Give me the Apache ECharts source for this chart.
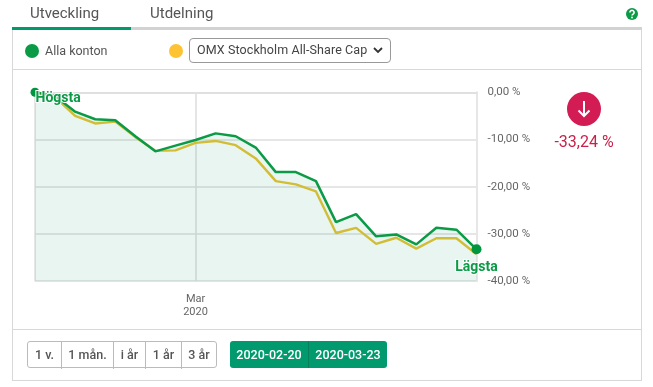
<!DOCTYPE html>
<html><head><meta charset="utf-8">
<script src="https://cdn.jsdelivr.net/npm/echarts@6/dist/echarts.min.js"></script>
<style>
html,body{margin:0;padding:0;background:#fff;width:653px;height:387px;overflow:hidden;font-family:Roboto,sans-serif;}
#chart{position:absolute;left:0;top:0;width:653px;height:387px;}
.a{position:absolute;white-space:nowrap;box-sizing:border-box;}
.btn{position:absolute;top:0;height:27px;line-height:26px;text-align:center;font-size:12.5px;font-weight:500;box-sizing:border-box;}
</style></head><body>
<div class="a" style="left:12px;top:27px;width:630px;height:354px;border:1px solid #d8d8d8;border-top:none"></div>
<div class="a" style="left:12px;top:27px;width:630px;height:3px;background:#d2d2d2"></div>
<div class="a" style="left:12px;top:27px;width:119px;height:3px;background:#009a6e"></div>
<div class="a" style="left:12px;top:69px;width:630px;height:1px;background:#d8d8d8"></div>
<div class="a" style="left:12px;top:329px;width:630px;height:1px;background:#d8d8d8"></div>
<div id="chart"></div>
<div class="a" style="left:30px;top:4px;font-size:15px;line-height:18px;color:#555">Utveckling</div>
<div class="a" style="left:150px;top:4px;font-size:15px;line-height:18px;color:#555">Utdelning</div>
<svg class="a" style="left:625px;top:7px" width="14" height="14" viewBox="0 0 14 14"><circle cx="7" cy="7" r="6" fill="#0b9a46"/><path d="M4.9 5.4a2.1 2 0 1 1 3.2 1.7c-.7.4-1.1.7-1.1 1.4" fill="none" stroke="#fff" stroke-width="1.6"/><circle cx="7" cy="10.4" r="1" fill="#fff"/></svg>
<div class="a" style="left:25px;top:44px;width:14px;height:14px;border-radius:50%;background:#0b9a46"></div>
<div class="a" style="left:45px;top:43px;font-size:12.5px;line-height:16px;color:#555">Alla konton</div>
<div class="a" style="left:169px;top:44px;width:14px;height:14px;border-radius:50%;background:#fdc332"></div>
<div class="a" style="left:189px;top:38px;width:202px;height:25px;border:1px solid #999;border-radius:4px;background:#fff"></div>
<div class="a" style="left:197px;top:42px;font-size:12.5px;line-height:16px;color:#444;letter-spacing:.1px">OMX Stockholm All-Share Cap</div>
<svg class="a" style="left:372px;top:46px" width="12" height="9" viewBox="0 0 12 9"><path d="M2 2l4 4 4-4" fill="none" stroke="#333" stroke-width="1.8"/></svg>
<svg class="a" style="left:567px;top:92px" width="34" height="34" viewBox="0 0 34 34"><circle cx="17" cy="17" r="17" fill="#d31b54"/><path d="M17 9v15M11.5 18.5l5.5 5.5 5.5-5.5" fill="none" stroke="#fff" stroke-width="2"/></svg>
<div class="a" style="left:534px;width:100px;top:133px;text-align:center;font-size:16px;line-height:18px;color:#c8224a">-33,24 %</div>
<div class="a" style="left:27px;top:341px;width:190px;height:27px;border:1px solid #bbb;border-radius:3px;color:#555">
<div class="btn" style="left:0;width:34px;border-right:1px solid #bbb">1 v.</div>
<div class="btn" style="left:34px;width:52px;border-right:1px solid #bbb">1 mån.</div>
<div class="btn" style="left:86px;width:32px;border-right:1px solid #bbb">i år</div>
<div class="btn" style="left:118px;width:36px;border-right:1px solid #bbb">1 år</div>
<div class="btn" style="left:154px;width:34px">3 år</div>
</div>
<div class="a" style="left:230px;top:341px;width:157px;height:27px;background:#009a6e;border-radius:3px;color:#fff">
<div class="btn" style="left:0;width:79px;border-right:1px solid #07805c;line-height:27px;font-size:12.5px">2020-02-20</div>
<div class="btn" style="left:79px;width:78px;line-height:27px;font-size:12.5px">2020-03-23</div>
</div>
<script>
const categories=['02-20','02-21','02-24','02-25','02-26','02-27','02-28','02-29','03-02','03-03','03-04','03-05','03-06','03-09','03-10','03-11','03-12','03-13','03-16','03-17','03-18','03-19','03-23'];
const accountValues=[0,-0.8,-4.1,-5.7,-5.9,-9.3,-12.5,-11.3,-10.1,-8.7,-9.3,-11.7,-16.9,-16.9,-18.8,-27.5,-25.8,-30.5,-30.1,-32.2,-28.7,-29.1,-33.24];
const indexValues=[0,-1,-5.0,-6.6,-6.2,-9.5,-12.4,-12.3,-10.7,-10.3,-11.2,-14,-18.8,-19.5,-21,-29.8,-28.7,-32.1,-30.8,-33.1,-30.9,-30.9,-34.3];
const highLabel='Högsta', lowLabel='Lägsta';
const monthCategory='03-02', monthLabel='Mar\n2020';
const font='Roboto';
const peak={fontFamily:font,fontWeight:'bold',fontSize:14,color:'#0b9a46',textBorderColor:'#fff',textBorderWidth:2};
const accountData=accountValues.map((v,i)=>{
  if(i===0) return {value:v,symbol:'circle',symbolSize:9,label:{show:true,formatter:highLabel,position:'right',distance:0,offset:[-4,6],...peak}};
  if(i===accountValues.length-1) return {value:v,symbol:'circle',symbolSize:10,label:{show:true,formatter:lowLabel,position:'bottom',distance:6,...peak}};
  return {value:v,symbol:'none'};
});
const chart=echarts.init(document.getElementById('chart'),null,{renderer:'canvas'});
chart.setOption({
  animation:false,
  grid:{left:35,right:176.5,top:92.3,bottom:105.8},
  xAxis:{type:'category',data:categories,boundaryGap:false,
    axisLine:{lineStyle:{color:'#e0e0e0',width:2}},axisTick:{show:false},
    axisLabel:{interval:(i,c)=>c===monthCategory,formatter:()=>monthLabel,color:'#666',fontFamily:font,fontSize:11,lineHeight:13,margin:12},
    splitLine:{show:true,interval:(i,c)=>i===0||c===monthCategory,lineStyle:{color:'#dcdcdc',width:1.5}}},
  yAxis:{type:'value',min:-40,max:0,interval:10,position:'right',
    axisLine:{show:true,lineStyle:{color:'#e6e6e6',width:2}},axisTick:{show:false},
    axisLabel:{formatter:v=>v.toFixed(2).replace('.',',')+' %',color:'#666',fontFamily:font,fontSize:11.5,margin:11},
    splitLine:{show:true,lineStyle:{color:'#dedede',width:1.5}}},
  series:[
    {name:'OMX Stockholm All-Share Cap',type:'line',data:indexValues,showSymbol:false,symbol:'none',
      lineStyle:{color:'#e6c235',width:2.4},z:2},
    {name:'Alla konton',type:'line',data:accountData,clip:false,
      itemStyle:{color:'#009640'},lineStyle:{color:'#0b9a46',width:2.5},
      areaStyle:{origin:'start',color:'rgba(0,135,80,0.125)'},z:3}
  ]
});
</script>
</body></html>
